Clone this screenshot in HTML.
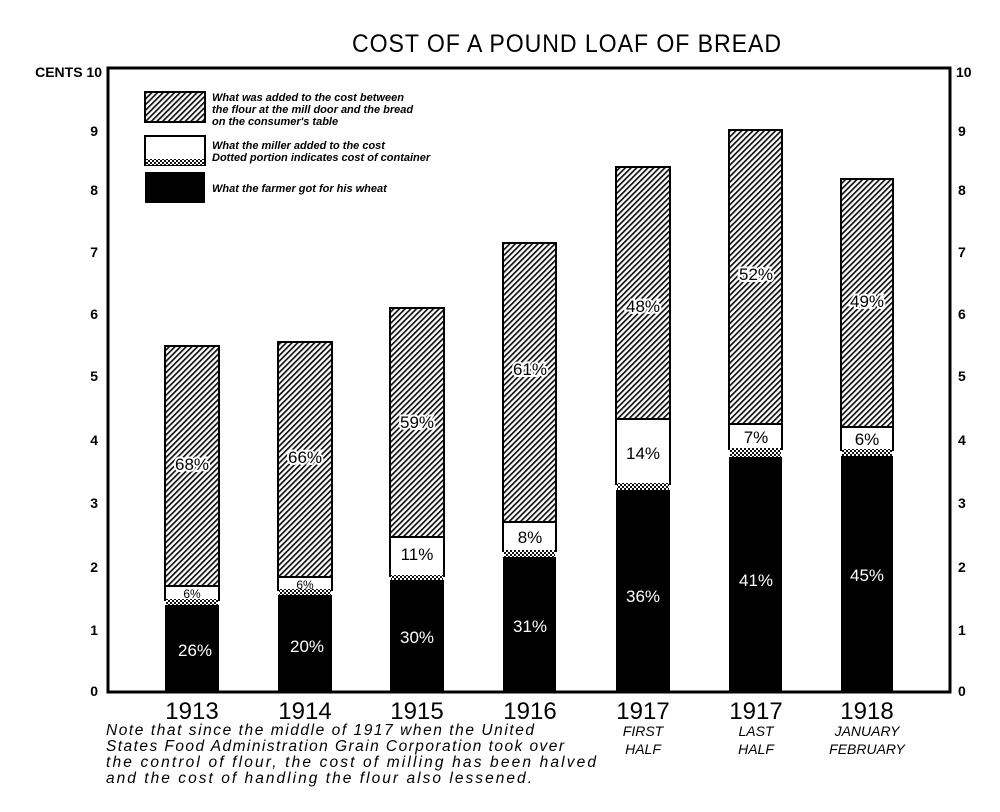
<!DOCTYPE html>
<html><head><meta charset="utf-8"><style>
html,body{margin:0;padding:0;background:#fff}
svg{display:block}
text{font-family:"Liberation Sans",sans-serif}
</style></head><body>
<svg width="1000" height="812" viewBox="0 0 1000 812" xmlns="http://www.w3.org/2000/svg">
<defs>
<pattern id="h" width="4" height="4" patternUnits="userSpaceOnUse" patternTransform="rotate(45)">
<rect width="4" height="4" fill="#fff"/><rect width="1.7" height="4" fill="#111"/>
</pattern>
<pattern id="d" width="4" height="4" patternUnits="userSpaceOnUse">
<rect width="4" height="4" fill="#fff"/><rect width="2" height="2" fill="#111"/><rect x="2" y="2" width="2" height="2" fill="#111"/>
</pattern>
</defs>
<text x="567" y="52" font-size="25" text-anchor="middle" letter-spacing="1" textLength="430" lengthAdjust="spacingAndGlyphs">COST OF A POUND LOAF OF BREAD</text>
<rect x="108" y="68" width="842" height="624" fill="none" stroke="#000" stroke-width="3"/>
<g font-size="14" font-weight="bold" text-anchor="end">
<text x="102" y="77">CENTS 10</text>
<text x="98" y="136">9</text><text x="98" y="195">8</text><text x="98" y="257">7</text>
<text x="98" y="319">6</text><text x="98" y="381">5</text><text x="98" y="445">4</text>
<text x="98" y="508">3</text><text x="98" y="572">2</text><text x="98" y="635">1</text><text x="98" y="696">0</text>
</g>
<g font-size="14" font-weight="bold">
<text x="956" y="77">10</text>
<text x="958" y="136">9</text><text x="958" y="195">8</text><text x="958" y="257">7</text>
<text x="958" y="319">6</text><text x="958" y="381">5</text><text x="958" y="445">4</text>
<text x="958" y="508">3</text><text x="958" y="572">2</text><text x="958" y="635">1</text><text x="958" y="696">0</text>
</g>
<rect x="145" y="92" width="60" height="30" fill="url(#h)" stroke="#000" stroke-width="2"/>
<rect x="145" y="136" width="60" height="29" fill="#fff" stroke="#000" stroke-width="2"/>
<rect x="146" y="159" width="58" height="6" fill="url(#d)"/>
<rect x="145" y="172" width="60" height="31" fill="#000"/>
<g font-size="11" font-style="italic" font-weight="bold">
<text x="212" y="101">What was added to the cost between</text>
<text x="212" y="113">the flour at the mill door and the bread</text>
<text x="212" y="125">on the consumer's table</text>
<text x="212" y="149">What the miller added to the cost</text>
<text x="212" y="161">Dotted portion indicates cost of container</text>
<text x="212" y="192">What the farmer got for his wheat</text>
</g>
<g stroke="#000" stroke-width="2">
<rect x="165" y="346" width="54" height="240" fill="url(#h)"/>
<rect x="165" y="586" width="54" height="14" fill="#fff"/>
<rect x="278" y="342" width="54" height="235" fill="url(#h)"/>
<rect x="278" y="577" width="54" height="13" fill="#fff"/>
<rect x="390" y="308" width="54" height="229" fill="url(#h)"/>
<rect x="390" y="537" width="54" height="39" fill="#fff"/>
<rect x="503" y="243" width="53" height="279" fill="url(#h)"/>
<rect x="503" y="522" width="53" height="29" fill="#fff"/>
<rect x="616" y="167" width="54" height="252" fill="url(#h)"/>
<rect x="616" y="419" width="54" height="65" fill="#fff"/>
<rect x="729" y="130" width="53" height="294" fill="url(#h)"/>
<rect x="729" y="424" width="53" height="25" fill="#fff"/>
<rect x="841" y="179" width="52" height="248" fill="url(#h)"/>
<rect x="841" y="427" width="52" height="23" fill="#fff"/>
</g>
<g>
<rect x="166" y="599" width="52" height="6" fill="url(#d)"/><rect x="165" y="605" width="54" height="87" fill="#000"/>
<rect x="279" y="589" width="52" height="6" fill="url(#d)"/><rect x="278" y="595" width="54" height="97" fill="#000"/>
<rect x="391" y="575" width="52" height="5" fill="url(#d)"/><rect x="390" y="580" width="54" height="112" fill="#000"/>
<rect x="504" y="550" width="51" height="7" fill="url(#d)"/><rect x="503" y="557" width="53" height="135" fill="#000"/>
<rect x="617" y="483" width="52" height="7" fill="url(#d)"/><rect x="616" y="490" width="54" height="202" fill="#000"/>
<rect x="730" y="448" width="51" height="9" fill="url(#d)"/><rect x="729" y="457" width="53" height="235" fill="#000"/>
<rect x="842" y="449" width="50" height="7" fill="url(#d)"/><rect x="841" y="456" width="52" height="236" fill="#000"/>
</g>
<g font-size="17" text-anchor="middle">
<text x="192" y="470" stroke="#fff" stroke-width="4" paint-order="stroke">68%</text>
<text x="305" y="463" stroke="#fff" stroke-width="4" paint-order="stroke">66%</text>
<text x="417" y="428" stroke="#fff" stroke-width="4" paint-order="stroke">59%</text>
<text x="530" y="375" stroke="#fff" stroke-width="4" paint-order="stroke">61%</text>
<text x="643" y="312" stroke="#fff" stroke-width="4" paint-order="stroke">48%</text>
<text x="756" y="280" stroke="#fff" stroke-width="4" paint-order="stroke">52%</text>
<text x="867" y="307" stroke="#fff" stroke-width="4" paint-order="stroke">49%</text>
<text x="192" y="598" font-size="12">6%</text>
<text x="305" y="589" font-size="12">6%</text>
<text x="417" y="560">11%</text>
<text x="530" y="543">8%</text>
<text x="643" y="459">14%</text>
<text x="756" y="443">7%</text>
<text x="867" y="445">6%</text>
</g>
<g font-size="17" text-anchor="middle" fill="#fff">
<text x="195" y="656">26%</text><text x="307" y="652">20%</text><text x="417" y="643">30%</text>
<text x="530" y="632">31%</text><text x="643" y="602">36%</text><text x="756" y="586">41%</text><text x="867" y="581">45%</text>
</g>
<g font-size="24" text-anchor="middle">
<text x="192" y="719">1913</text><text x="305" y="719">1914</text><text x="417" y="719">1915</text>
<text x="530" y="719">1916</text><text x="643" y="719">1917</text><text x="756" y="719">1917</text><text x="867" y="719">1918</text>
</g>
<g font-size="14" font-style="italic" text-anchor="middle">
<text x="643" y="736">FIRST</text><text x="643" y="754">HALF</text>
<text x="756" y="736">LAST</text><text x="756" y="754">HALF</text>
<text x="867" y="736">JANUARY</text><text x="867" y="754">FEBRUARY</text>
</g>
<g font-size="15.5" font-style="italic">
<text x="106" y="735" textLength="428" lengthAdjust="spacing">Note that since the middle of 1917 when the United</text>
<text x="106" y="751" textLength="458" lengthAdjust="spacing">States Food Administration Grain Corporation took over</text>
<text x="106" y="767" textLength="490" lengthAdjust="spacing">the control of flour, the cost of milling has been halved</text>
<text x="106" y="783" textLength="426" lengthAdjust="spacing">and the cost of handling the flour also lessened.</text>
</g>
</svg>
</body></html>
